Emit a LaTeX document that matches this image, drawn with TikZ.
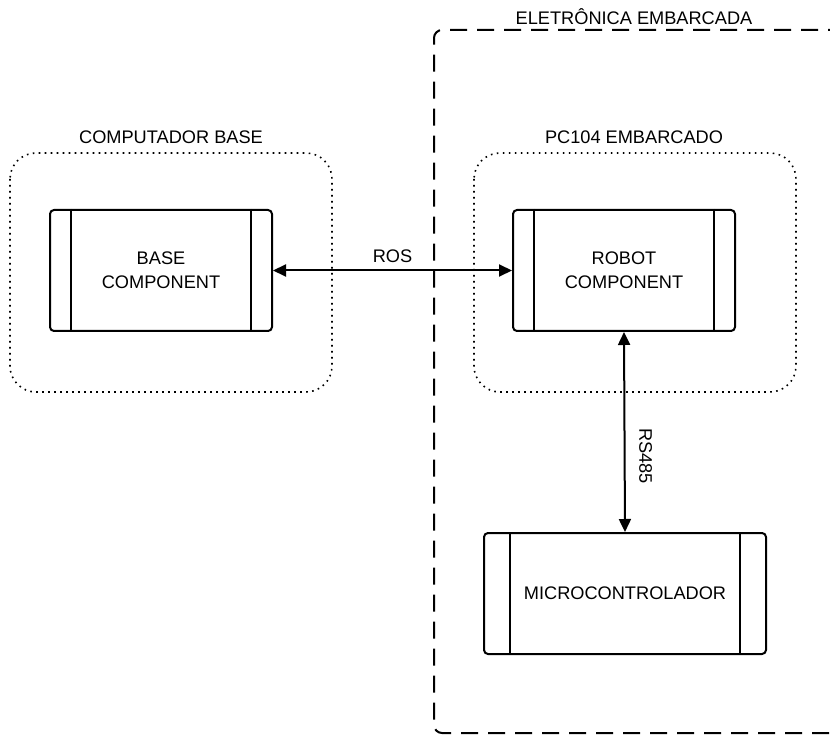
\documentclass[tikz,border=0pt]{standalone}
\usepackage{fontspec}
\setmainfont{Liberation Sans}
\usetikzlibrary{arrows.meta}

\tikzset{
  comp/.style={draw, line width=2pt, rounded corners=4pt, minimum height=121pt, align=center},
  grp/.style={line width=1.6pt, dash pattern=on 1.6pt off 4.4pt, rounded corners=26pt},
  link/.style={line width=2pt, {Triangle[length=13pt,width=12pt]}-{Triangle[length=13pt,width=12pt]}},
  lbl/.style={font=\fontsize{18.2}{24}\selectfont}
}

\begin{document}
\begin{tikzpicture}[x=1pt,y=-1pt,font=\fontsize{18.2}{24}\selectfont]
  \useasboundingbox (0,0) rectangle (830,735);

  % embedded electronics (runs off the right edge)
  \draw[line width=2pt, dash pattern=on 17pt off 10pt, rounded corners=8pt]
    (845,30) -- (434,30) -- (434,733) -- (845,733);
  \node[lbl] at (634,17) (emb) {ELETRÔNICA EMBARCADA};

  % groups
  \draw[grp] (10,153) rectangle (332,392);
  \node[lbl] at (171,137) (pcbase) {COMPUTADOR BASE};
  \draw[grp] (474,153) rectangle (796,392);
  \node[lbl] at (634,137) (pc104) {PC104 EMBARCADO};

  % components
  \node[comp, minimum width=222pt] at (161,270.5) (base) {BASE\\COMPONENT};
  \node[comp, minimum width=222pt] at (624,270.5) (robot) {ROBOT\\COMPONENT};
  \node[comp, minimum width=282pt] at (625,593.5) (micro) {MICROCONTROLADOR};

  \draw[line width=2pt] ([xshift=22pt]base.north west) -- ([xshift=22pt]base.south west);
  \draw[line width=2pt] ([xshift=-22pt]base.north east) -- ([xshift=-22pt]base.south east);
  \draw[line width=2pt] ([xshift=22pt]robot.north west) -- ([xshift=22pt]robot.south west);
  \draw[line width=2pt] ([xshift=-22pt]robot.north east) -- ([xshift=-22pt]robot.south east);
  \draw[line width=2pt] ([xshift=27pt]micro.north west) -- ([xshift=27pt]micro.south west);
  \draw[line width=2pt] ([xshift=-27pt]micro.north east) -- ([xshift=-27pt]micro.south east);

  % links
  \draw[link] (base.east) -- node[above=3pt] {ROS} (robot.west);
  \draw[link] (robot.south) -- node[pos=0.62, xshift=21pt, rotate=-90] {RS485} (micro.north);

\end{tikzpicture}
\end{document}
